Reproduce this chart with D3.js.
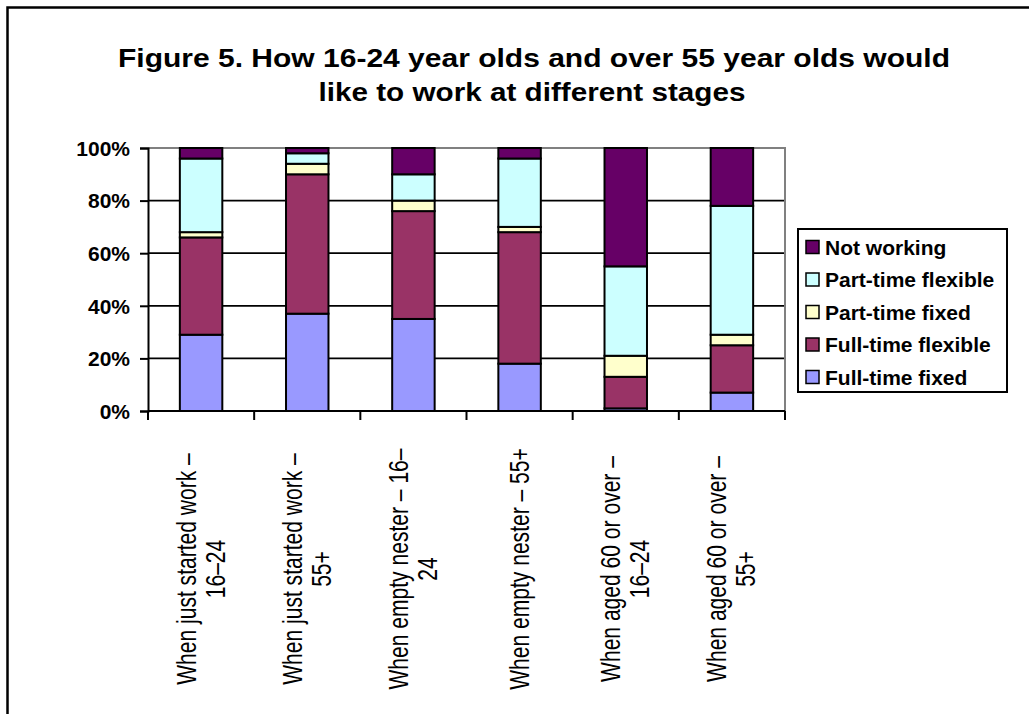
<!DOCTYPE html>
<html>
<head>
<meta charset="utf-8">
<script src="https://cdn.jsdelivr.net/npm/d3@7"></script>
<style>
  html, body { margin: 0; padding: 0; background: #fff; }
  svg { display: block; }
</style>
</head>
<body>
<svg id="chart" width="1029" height="714"></svg>
<script>
// ---- Data ----
const categories = [
  ["When just started work –", "16–24"],
  ["When just started work –", "55+"],
  ["When empty nester – 16–", "24"],
  ["When empty nester  –  55+"],
  ["When aged 60 or over –", "16–24"],
  ["When aged 60 or over –", "55+"]
];
const seriesNames = ["Full-time fixed", "Full-time flexible", "Part-time fixed", "Part-time flexible", "Not working"];
const fullTimeFixed    = [29, 37, 35, 18,  1,  7];
const fullTimeFlexible = [37, 53, 41, 50, 12, 18];
const partTimeFixed    = [ 2,  4,  4,  2,  8,  4];
const partTimeFlexible = [28,  4, 10, 26, 34, 49];
const notWorking       = [ 4,  2, 10,  4, 45, 22];
const yTicks = [0, 20, 40, 60, 80, 100];
const yTickLabels = ["0%", "20%", "40%", "60%", "80%", "100%"];
const titleLines = ["Figure 5. How 16-24 year olds and over 55 year olds would", "like to work at different stages"];
const colors = ["#9999FF", "#993366", "#FFFFCC", "#CCFFFF", "#660066"];

// ---- Build table ----
const seriesValues = [fullTimeFixed, fullTimeFlexible, partTimeFixed, partTimeFlexible, notWorking];
const table = categories.map((c, i) => {
  const row = { idx: i };
  seriesNames.forEach((s, j) => row[s] = seriesValues[j][i]);
  return row;
});
const stacked = d3.stack().keys(seriesNames)(table);

// ---- Layout ----
const svg = d3.select("#chart");
const plot = { left: 148, right: 785, top: 148, bottom: 411 };

// outer frame
svg.append("rect").attr("x", 7.5).attr("y", 7.5).attr("width", 1100).attr("height", 800)
  .attr("fill", "none").attr("stroke", "#000").attr("stroke-width", 2.5);

// title
const titleText = svg.append("g").attr("font-family", "'Liberation Sans', Arial, sans-serif")
  .attr("font-weight", "bold").attr("font-size", 26).attr("fill", "#000");
const titleSpecs = [{ x: 534, y: 67, len: 832 }, { x: 532, y: 101, len: 427 }];
titleLines.forEach((t, i) => {
  titleText.append("text").attr("x", titleSpecs[i].x).attr("y", titleSpecs[i].y)
    .attr("text-anchor", "middle").attr("textLength", titleSpecs[i].len)
    .attr("lengthAdjust", "spacingAndGlyphs").text(t);
});

const x = d3.scaleBand().domain(d3.range(categories.length))
  .range([plot.left, plot.right]).paddingInner(0.6).paddingOuter(0.3);
const xOuter = d3.scaleBand().domain(d3.range(categories.length))
  .range([plot.left, plot.right]).padding(0);
const y = d3.scaleLinear().domain([0, 100]).range([plot.bottom, plot.top]);

// gridlines
svg.append("g").selectAll("line").data(yTicks.filter(v => v > 0 && v < 100)).join("line")
  .attr("x1", plot.left).attr("x2", plot.right)
  .attr("y1", d => y(d)).attr("y2", d => y(d))
  .attr("stroke", "#000").attr("stroke-width", 1.8);

// plot border (gray top/right)
svg.append("path")
  .attr("d", `M${plot.left},${y(100)}H${plot.right}V${plot.bottom}`)
  .attr("fill", "none").attr("stroke", "#808080").attr("stroke-width", 2);

// bars
svg.append("g").selectAll("g").data(stacked).join("g")
  .attr("fill", (d, i) => colors[i])
  .selectAll("rect").data(d => d).join("rect")
  .attr("x", (d, i) => x(i))
  .attr("width", x.bandwidth())
  .attr("y", d => y(d[1]))
  .attr("height", d => y(d[0]) - y(d[1]))
  .attr("stroke", "#000").attr("stroke-width", 2);

// Y axis
const yAxis = d3.axisLeft(y).tickValues(yTicks).tickSize(8)
  .tickFormat((d, i) => yTickLabels[i]);
const yG = svg.append("g").attr("transform", `translate(${plot.left},0)`).call(yAxis);
yG.select(".domain").attr("stroke", "#000").attr("stroke-width", 2);
yG.selectAll(".tick line").attr("stroke", "#000").attr("stroke-width", 2);
yG.selectAll(".tick text").attr("font-family", "'Liberation Sans', Arial, sans-serif")
  .attr("font-weight", "bold").attr("font-size", 21).attr("fill", "#000")
  .attr("x", -18).attr("dy", "0.35em");

// X axis (ticks at category boundaries)
const bounds = d3.range(categories.length + 1).map(i => plot.left + i * xOuter.step());
svg.append("line").attr("x1", plot.left).attr("x2", plot.right)
  .attr("y1", plot.bottom).attr("y2", plot.bottom).attr("stroke", "#000").attr("stroke-width", 2);
svg.append("g").selectAll("line").data(bounds).join("line")
  .attr("x1", d => d).attr("x2", d => d)
  .attr("y1", plot.bottom).attr("y2", plot.bottom + 9)
  .attr("stroke", "#000").attr("stroke-width", 2);

// X labels (rotated, condensed)
const xl = svg.append("g").attr("font-family", "'Liberation Sans', Arial, sans-serif")
  .attr("font-size", 27).attr("fill", "#000");
categories.forEach((lines, i) => {
  const cx = x(i) + x.bandwidth() / 2;
  const n = lines.length;
  lines.forEach((ln, j) => {
    const bx = cx + 9 + (j - (n - 1) / 2) * 29;
    xl.append("text")
      .attr("transform", `translate(${bx},569) rotate(-90) scale(0.78,1)`)
      .attr("text-anchor", "middle").text(ln);
  });
});

// Legend
const legend = svg.append("g");
legend.append("rect").attr("x", 798).attr("y", 229).attr("width", 209).attr("height", 163)
  .attr("fill", "#fff").attr("stroke", "#000").attr("stroke-width", 2);
const legOrder = d3.range(seriesNames.length).reverse();
legOrder.forEach((si, k) => {
  const cy = 247 + k * 32.5;
  legend.append("rect").attr("x", 806).attr("y", cy - 6.5).attr("width", 13).attr("height", 13)
    .attr("fill", colors[si]).attr("stroke", "#000").attr("stroke-width", 1.5);
  legend.append("text").attr("x", 825).attr("y", cy + 7.5)
    .attr("font-family", "'Liberation Sans', Arial, sans-serif")
    .attr("font-weight", "bold").attr("font-size", 21).attr("fill", "#000")
    .text(seriesNames[si]);
});
</script>
</body>
</html>
